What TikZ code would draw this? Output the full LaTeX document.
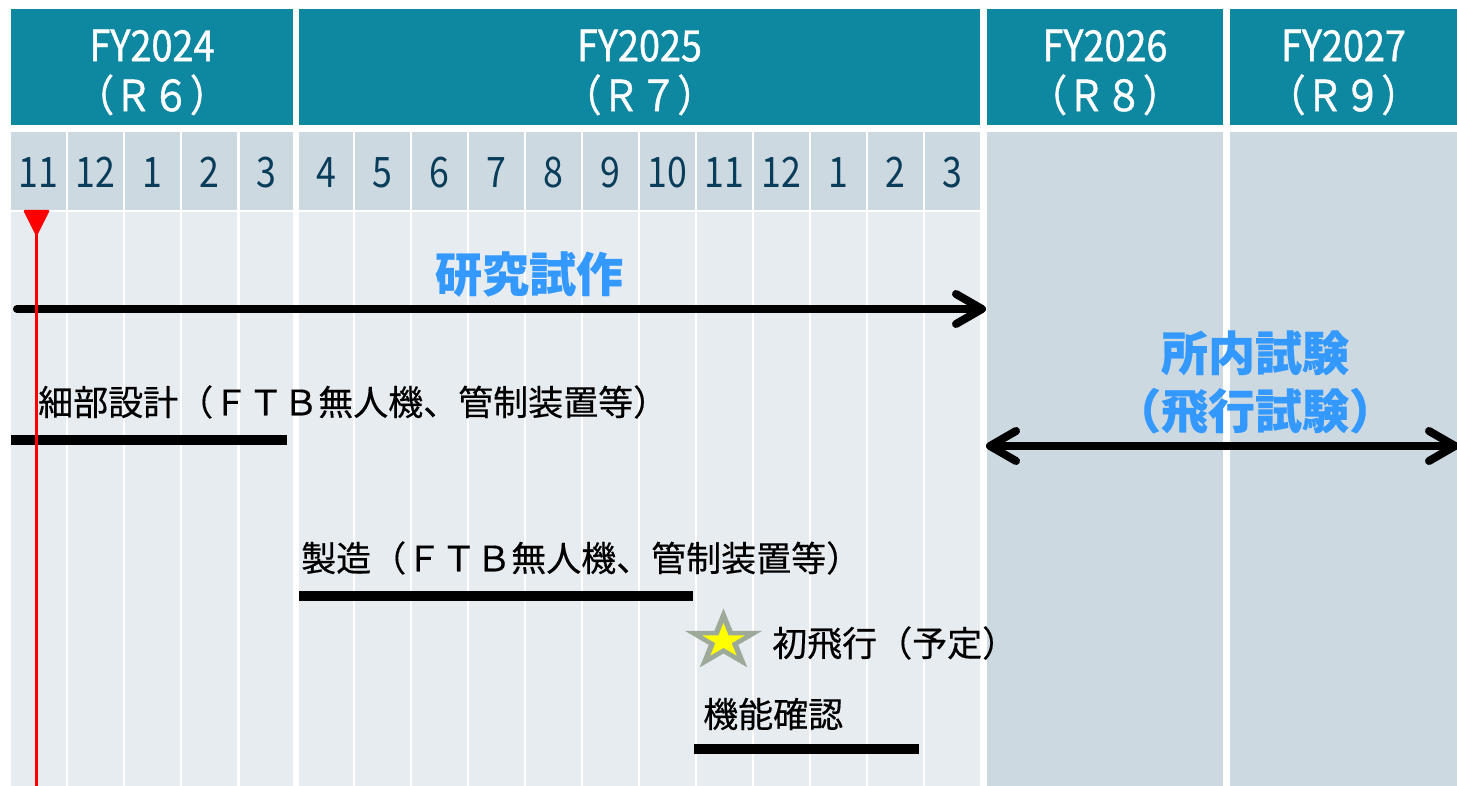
\documentclass[tikz,border=0pt]{standalone}
\usepackage{fontspec}
\newfontfamily\jp[FakeBold=0.4]{Noto Sans CJK JP}
\newfontfamily\jpn[FakeStretch=0.85]{Noto Sans CJK JP}
\newfontfamily\jph[FakeStretch=0.88, FakeBold=0.9]{Noto Sans CJK JP}
\usetikzlibrary{arrows.meta}
\definecolor{hdrteal}{HTML}{0E88A1}
\definecolor{monthbg}{HTML}{CCD9E1}
\definecolor{bodybg}{HTML}{E7ECF0}
\definecolor{monthtxt}{HTML}{0A3D5A}
\definecolor{lblblue}{HTML}{3399FF}
\definecolor{stargray}{HTML}{9DAA9A}
\definecolor{staryellow}{HTML}{FFFF00}
\tikzset{
  hdrtext/.style={align=center, text=white, inner sep=0pt, font=\jph\fontsize{43}{50}\selectfont},
  monthlbl/.style={text=monthtxt, inner sep=0pt, font=\jpn\fontsize{42}{42}\selectfont},
  tasktext/.style={anchor=west, inner sep=0pt, text=black, font=\jp\fontsize{35}{40}\selectfont},
  bluetext/.style={align=center, inner sep=0pt, text=lblblue, font=\jp\bfseries\fontsize{47}{58}\selectfont},
  taskbar/.style={line width=10pt, line cap=butt},
  bigarrow/.style={line width=8pt, line cap=round},
  barb/.tip={Straight Barb[length=26pt, width=30pt, line cap=round, line join=round]}
}
\begin{document}
\begin{tikzpicture}[x=1pt,y=-1pt]
\useasboundingbox (0,0) rectangle (1457,786);
% fiscal year headers
\fill[hdrteal] (11,9) rectangle (293,125);
\fill[hdrteal] (299,9) rectangle (980,125);
\fill[hdrteal] (987,9) rectangle (1223,125);
\fill[hdrteal] (1230,9) rectangle (1457,125);
\node[hdrtext] (fy24) at (152,72.5) {FY2024\\（Ｒ６）};
\node[hdrtext] (fy25) at (639.5,72.5) {FY2025\\（Ｒ７）};
\node[hdrtext] (fy26) at (1105,72.5) {FY2026\\（Ｒ８）};
\node[hdrtext] (fy27) at (1343.5,72.5) {FY2027\\（Ｒ９）};
% later years background
\fill[monthbg] (987,132) rectangle (1223,786);
\fill[monthbg] (1230,132) rectangle (1457,786);
% month columns
\foreach \l/\r/\m [count=\i] in {11/66/11, 68/123/12, 125/180/1, 182/237/2, 240/293/3,
  299/353/4, 355/410/5, 412/467/6, 469/524/7, 526/581/8, 583/638/9, 640/695/10,
  697/752/11, 754/809/12, 811/866/1, 868/923/2, 925/980/3} {
  \fill[monthbg] (\l,132) rectangle (\r,210);
  \fill[bodybg] (\l,212) rectangle (\r,786);
  \node[monthlbl] (m\i) at ({(\l+\r)/2},172.5) {\m};
}
% research prototype arrow
\coordinate (a1s) at (17,309);
\coordinate (a1e) at (986,309);
\draw[bigarrow, -barb] (a1s) -- (a1e);
\node[bluetext] (kenkyu) at (529,274) {研究試作};
% in-house test arrow
\coordinate (a2s) at (986,446);
\coordinate (a2e) at (1459,446);
\draw[bigarrow, barb-barb] (a2s) -- (a2e);
\node[bluetext] (shonai) at (1255,382) {所内試験\\（飛行試験）};
% detailed design
\node[tasktext] (sekkei) at (38,402) {細部設計（ＦＴＢ無人機、管制装置等）};
\coordinate (b1s) at (11,439.5);
\coordinate (b1e) at (287,439.5);
\draw[taskbar] (b1s) -- (b1e);
% manufacturing
\node[tasktext] (seizo) at (301,558) {製造（ＦＴＢ無人機、管制装置等）};
\coordinate (b2s) at (299,596);
\coordinate (b2e) at (693,596);
\draw[taskbar] (b2s) -- (b2e);
% first flight star
\begin{scope}[shift={(723.5,641)}, xscale=1.24]
  \fill[stargray] (270:32.6) -- (306:12.5) -- (342:32.6) -- (18:12.5) -- (54:32.6)
    -- (90:12.5) -- (126:32.6) -- (162:12.5) -- (198:32.6) -- (234:12.5) -- cycle;
  \fill[staryellow] (270:18) -- (306:6.9) -- (342:18) -- (18:6.9) -- (54:18)
    -- (90:6.9) -- (126:18) -- (162:6.9) -- (198:18) -- (234:6.9) -- cycle;
\end{scope}
\node[tasktext] (shohiko) at (772,643) {初飛行（予定）};
% function check
\node[tasktext] (kino) at (703,714) {機能確認};
\coordinate (b3s) at (694,749);
\coordinate (b3e) at (919,749);
\draw[taskbar] (b3s) -- (b3e);
% today marker
\coordinate (now) at (36.5,225);
\coordinate (nowend) at (36.5,786);
\draw[red, line width=3.5pt] (now) -- (nowend);
\fill[red, rounded corners=1.5pt] (23,210) -- (50,210) -- (36.5,237) -- cycle;
\end{tikzpicture}
\end{document}
